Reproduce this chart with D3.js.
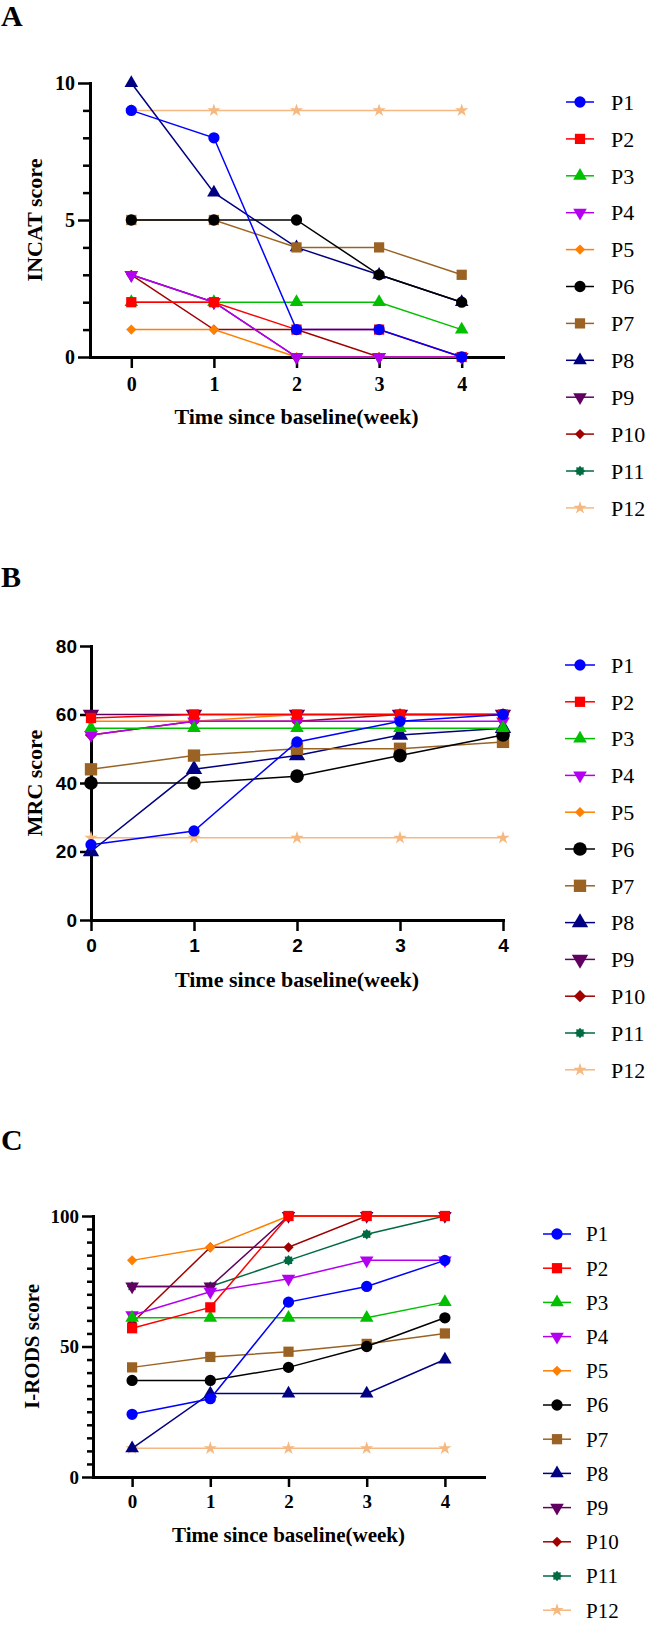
<!DOCTYPE html>
<html>
<head>
<meta charset="utf-8">
<script src="https://cdn.jsdelivr.net/npm/d3@7"></script>
<style>
    html, body { margin: 0; padding: 0; background: #ffffff; }
    svg { display: block; }
</style>
</head>
<body>
<svg id="chart" width="647" height="1626"></svg>
<script>

// ---- data ----
const weeks = [0, 1, 2, 3, 4];
const participants = ["P1", "P2", "P3", "P4", "P5", "P6", "P7", "P8", "P9", "P10", "P11", "P12"];
const seriesColors = ["#0000ff", "#ff0000", "#00c000", "#b400f0", "#ff8000", "#000000",
    "#9a6324", "#000080", "#600060", "#a00000", "#006a40", "#f5b880"];
const seriesShapes = ["circle", "square", "triangle", "down", "diamond", "circle",
    "square", "triangle", "down", "diamond", "burst", "star"];

// INCAT score, one row per participant (null = not shown)
const incatScores = [
    [9, 8, 1, 1, 0],
    [2, 2, 1, 1, 0],
    [2, 2, 2, 2, 1],
    [3, 2, 0, 0, 0],
    [1, 1, 0, 0, 0],
    [5, 5, 5, 3, 2],
    [5, 5, 4, 4, 3],
    [10, 6, 4, 3, 2],
    [3, 2, 0, 0, 0],
    [3, 1, 1, 0, 0],
    null,
    [9, 9, 9, 9, 9]
];

// MRC score
const mrcScores = [
    [22, 26, 52, 58, 60],
    [59, 60, 60, 60, 60],
    [56, 56, 56, 56, 56],
    [54, 58, 58, 58, 58],
    [58, 58, 60, 60, 60],
    [40, 40, 42, 48, 54],
    [44, 48, 50, 50, 52],
    [20, 44, 48, 54, 56],
    [60, 60, 60, 60, 60],
    [54, 58, 58, 60, 60],
    null,
    [24, 24, 24, 24, 24]
];

// I-RODS score
const irodsScores = [
    [24, 30, 67, 73, 83],
    [57, 65, 100, 100, 100],
    [61, 61, 61, 61, 67],
    [62, 71, 76, 83, 83],
    [83, 88, 100, 100, 100],
    [37, 37, 42, 50, 61],
    [42, 46, 48, 51, 55],
    [11, 32, 32, 32, 45],
    [73, 73, 100, 100, 100],
    [59, 88, 88, 100, 100],
    [73, 73, 83, 93, 100],
    [11, 11, 11, 11, 11]
];

const incatMajor = [0, 5, 10];
const incatMinor = [1, 2, 3, 4, 6, 7, 8, 9];
const mrcMajor = [0, 20, 40, 60, 80];
const irodsMajor = [0, 50, 100];
const irodsMinor = [5, 10, 15, 20, 25, 30, 35, 40, 45, 55, 60, 65, 70, 75, 80, 85, 90, 95];

const SERIF = "'Liberation Serif', 'Times New Roman', serif";
const SANS = "'Liberation Sans', Arial, sans-serif";

let svg = d3.select("#chart");

// 8-lobed burst marker used for P11
const symbolBurst = {
    draw(context, size) {
        let r = Math.sqrt(size / Math.PI) * 1.05;
        for (let k = 0; k < 16; k++) {
            let a = k * Math.PI / 8 - Math.PI / 2;
            let rr = k % 2 ? r * 0.72 : r;
            if (k === 0) context.moveTo(rr * Math.cos(a), rr * Math.sin(a));
            else context.lineTo(rr * Math.cos(a), rr * Math.sin(a));
        }
        context.closePath();
    }
};

const shapeTypes = {
    circle: d3.symbolCircle,
    square: d3.symbolSquare,
    triangle: d3.symbolTriangle,
    down: d3.symbolTriangle,
    diamond: d3.symbolSquare,
    burst: symbolBurst,
    star: d3.symbolStar
};

// base areas for each shape
const shapeSizes = { circle: 100, square: 105, triangle: 80, down: 80, diamond: 52, burst: 80, star: 55 };

function markerPath(shape, size) {
    return d3.symbol().type(shapeTypes[shape]).size(size)();
}

function markerRotate(shape) {
    if (shape === "down") return 180;
    if (shape === "diamond") return 45;
    return 0;
}


function drawPanel(cfg) {

    let g = svg.append("g");

    let x = d3.scaleLinear().domain(cfg.xDomain).range(cfg.xRange);
    let y = d3.scaleLinear().domain(cfg.yDomain).range(cfg.yRange);

    // panel letter
    g.append("text")
        .attr("x", 1)
        .attr("y", cfg.letterY)
        .text(cfg.letter)
        .style("font-family", SERIF)
        .style("font-weight", "bold")
        .style("font-size", "30px");

    // minor ticks on y
    if (cfg.minorTicks) {
        g.append("g")
            .attr("transform", `translate(${cfg.xRange[0]},0)`)
            .call(d3.axisLeft(y).tickValues(cfg.minorTicks).tickSize(cfg.minorSize).tickFormat(""))
            .call(a => a.select(".domain").remove())
            .selectAll("line").attr("stroke-width", 2.5);
    }

    // y axis
    let yAxis = g.append("g")
        .attr("transform", `translate(${cfg.xRange[0]},0)`)
        .call(d3.axisLeft(y).tickValues(cfg.majorTicks).tickFormat(d3.format("d"))
            .tickSize(cfg.majorSize).tickSizeOuter(0).tickPadding(3));

    // x axis
    let xAxis = g.append("g")
        .attr("transform", `translate(0,${cfg.yRange[0]})`)
        .call(d3.axisBottom(x).tickValues(weeks).tickFormat(d3.format("d"))
            .tickSize(cfg.xTickSize).tickSizeOuter(0).tickPadding(cfg.xPad));

    for (let axis of [yAxis, xAxis]) {
        axis.select(".domain").attr("stroke-width", 3).attr("stroke-linecap", "square");
        axis.selectAll(".tick line").attr("stroke-width", 2.5);
        axis.selectAll("text")
            .style("font-family", cfg.tickFont)
            .style("font-weight", "bold")
            .style("font-size", cfg.tickFontSize + "px")
            .attr("fill", "#000");
    }

    // axis titles
    g.append("text")
        .attr("x", (cfg.xRange[0] + cfg.xRange[1]) / 2)
        .attr("y", cfg.xTitleY)
        .attr("text-anchor", "middle")
        .text("Time since baseline(week)")
        .style("font-family", SERIF)
        .style("font-weight", "bold")
        .style("font-size", cfg.titleSize + "px");

    g.append("text")
        .attr("transform", `translate(${cfg.yTitleX},${(cfg.yRange[0] + cfg.yRange[1]) / 2}) rotate(-90)`)
        .attr("text-anchor", "middle")
        .text(cfg.yTitle)
        .style("font-family", SERIF)
        .style("font-weight", "bold")
        .style("font-size", cfg.titleSize + "px");

    let line = d3.line()
        .x(d => x(d.week))
        .y(d => y(d.value));

    // series, last one first so P1 ends up on top
    for (let i = participants.length - 1; i >= 0; i--) {
        let values = cfg.data[i];
        if (!values) continue;

        let points = weeks.map((w, j) => ({ week: w, value: values[j] }));
        let shape = seriesShapes[i];
        let size = shapeSizes[shape] * cfg.sizeFactor(i);

        g.append("path")
            .datum(points)
            .attr("d", line)
            .attr("fill", "none")
            .attr("stroke", seriesColors[i])
            .attr("stroke-width", 1.5);

        g.selectAll(null)
            .data(points)
            .enter()
            .append("path")
            .attr("d", markerPath(shape, size))
            .attr("transform", d => `translate(${x(d.week)},${y(d.value)}) rotate(${markerRotate(shape)})`)
            .attr("fill", seriesColors[i]);
    }

    // LEGEND
    let legend = g.append("g");
    participants.forEach((name, i) => {
        let ly = cfg.legend.y0 + i * cfg.legend.step;
        let shape = seriesShapes[i];
        let size = shapeSizes[shape] * cfg.sizeFactor(i);
        let mid = (cfg.legend.x0 + cfg.legend.x1) / 2;

        legend.append("line")
            .attr("x1", cfg.legend.x0)
            .attr("x2", cfg.legend.x1)
            .attr("y1", ly)
            .attr("y2", ly)
            .attr("stroke", seriesColors[i])
            .attr("stroke-width", 1.5);

        legend.append("path")
            .attr("d", markerPath(shape, size))
            .attr("transform", `translate(${mid},${ly}) rotate(${markerRotate(shape)})`)
            .attr("fill", seriesColors[i]);

        legend.append("text")
            .attr("x", cfg.legend.textX)
            .attr("y", ly)
            .attr("dy", "0.35em")
            .text(name)
            .style("font-family", SERIF)
            .style("font-size", cfg.legend.fontSize + "px");
    });
}


drawPanel({
    letter: "A",
    letterY: 26,
    data: incatScores,
    xDomain: [-0.5, 4.5],
    xRange: [90, 503],
    yDomain: [0, 10],
    yRange: [357, 83],
    majorTicks: incatMajor,
    minorTicks: incatMinor,
    majorSize: 12,
    minorSize: 7,
    xTickSize: 11,
    xPad: 9,
    tickFont: SERIF,
    tickFontSize: 20,
    titleSize: 22,
    xTitleY: 424,
    yTitle: "INCAT score",
    yTitleX: 42,
    sizeFactor: () => 1,
    legend: { x0: 566, x1: 594, textX: 611, y0: 102, step: 36.9, fontSize: 22 }
});

drawPanel({
    letter: "B",
    letterY: 587,
    data: mrcScores,
    xDomain: [0, 4],
    xRange: [91, 503],
    yDomain: [0, 80],
    yRange: [920, 646],
    majorTicks: mrcMajor,
    minorTicks: null,
    majorSize: 11,
    xTickSize: 11,
    xPad: 8,
    tickFont: SANS,
    tickFontSize: 19,
    titleSize: 22,
    xTitleY: 987,
    yTitle: "MRC score",
    yTitleX: 42,
    sizeFactor: i => (i >= 5 && i <= 9 ? 1.45 : 1),
    legend: { x0: 565, x1: 595, textX: 611, y0: 665, step: 36.8, fontSize: 22 }
});

drawPanel({
    letter: "C",
    letterY: 1150,
    data: irodsScores,
    xDomain: [-0.5, 4.5],
    xRange: [93, 484],
    yDomain: [0, 100],
    yRange: [1477, 1216],
    majorTicks: irodsMajor,
    minorTicks: irodsMinor,
    majorSize: 11,
    minorSize: 6,
    xTickSize: 10,
    xPad: 8,
    tickFont: SERIF,
    tickFontSize: 19,
    titleSize: 21,
    xTitleY: 1542,
    yTitle: "I-RODS score",
    yTitleX: 39,
    sizeFactor: () => 1,
    legend: { x0: 543, x1: 571, textX: 586, y0: 1234, step: 34.2, fontSize: 21 }
});

</script>
</body>
</html>
